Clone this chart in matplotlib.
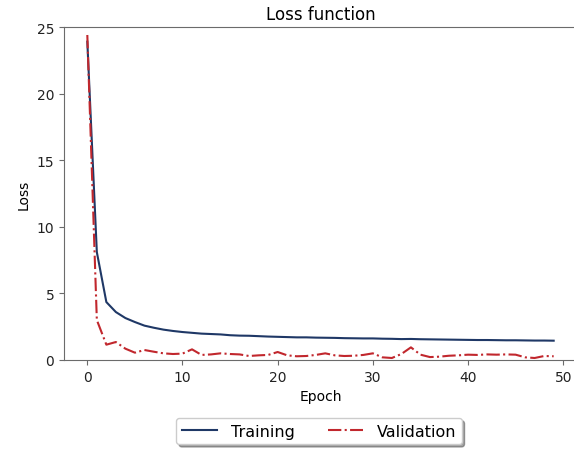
import matplotlib
matplotlib.use("Agg")
import matplotlib.pyplot as plt

epochs = list(range(50))
training = [23.9, 8.1, 4.35, 3.6, 3.15, 2.85, 2.58, 2.42, 2.28, 2.18,
            2.1, 2.04, 1.98, 1.95, 1.92, 1.86, 1.83, 1.82, 1.79, 1.76,
            1.74, 1.72, 1.70, 1.70, 1.68, 1.67, 1.66, 1.64, 1.63, 1.62,
            1.62, 1.60, 1.59, 1.57, 1.58, 1.56, 1.55, 1.54, 1.53, 1.52,
            1.51, 1.50, 1.50, 1.49, 1.48, 1.48, 1.47, 1.46, 1.46, 1.45]
validation = [24.4, 3.0, 1.15, 1.35, 0.85, 0.55, 0.75, 0.62, 0.5, 0.45,
              0.48, 0.8, 0.38, 0.42, 0.5, 0.45, 0.42, 0.3, 0.35, 0.38,
              0.6, 0.35, 0.28, 0.3, 0.38, 0.5, 0.35, 0.3, 0.32, 0.38,
              0.5, 0.2, 0.15, 0.45, 0.95, 0.4, 0.22, 0.25, 0.32, 0.35,
              0.4, 0.38, 0.42, 0.4, 0.42, 0.4, 0.2, 0.15, 0.3, 0.28]

fig = plt.figure(figsize=(5.74, 4.52), dpi=100)
ax = fig.add_axes([64 / 574, 1 - 361 / 452, 513 / 574, 333 / 452])

ax.plot(epochs, training, color="#1f3866", lw=1.5, label="Training")
ax.plot(epochs, validation, color="#c1272d", lw=1.5, ls="-.", label="Validation")

ax.set_ylim(0, 25)
ax.set_xlim(-2.45, 51.45)
ax.set_yticks([0, 5, 10, 15, 20, 25])
ax.set_xticks([0, 10, 20, 30, 40, 50])
ax.set_title("Loss function", fontsize=12)
ax.set_xlabel("Epoch", fontsize=10)
ax.set_ylabel("Loss", fontsize=10)

for s in ax.spines.values():
    s.set_color("#6b6b6b")
ax.tick_params(colors="#6b6b6b", labelcolor="#222222", labelsize=10)

fig.legend(loc="upper center", bbox_to_anchor=(319 / 574, 1 - 411 / 452),
           ncol=2, shadow=True, fancybox=True, fontsize=11.5,
           handlelength=2.2, handletextpad=0.85, columnspacing=2.1,
           borderpad=0.35)

fig.savefig("out.png", dpi=100)
